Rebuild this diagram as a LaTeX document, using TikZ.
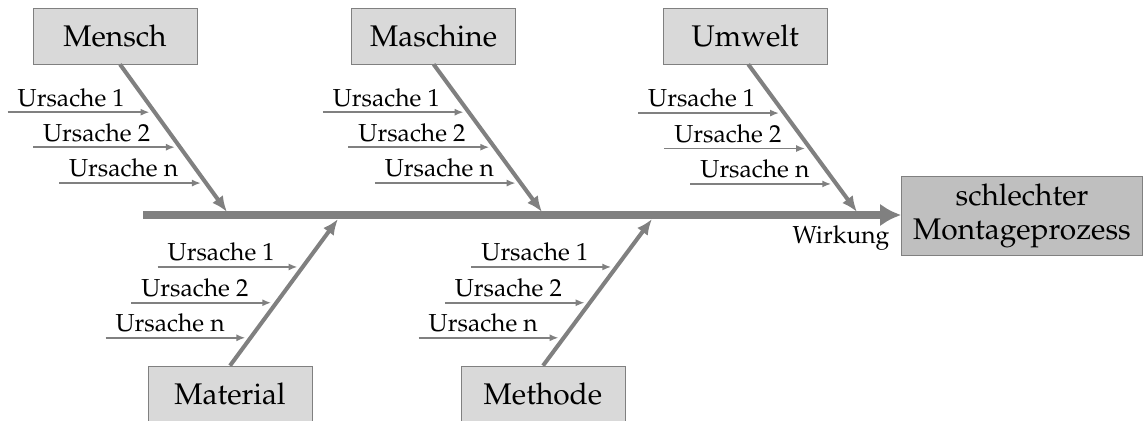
\documentclass[tikz,border=0pt]{standalone}
\usepackage[T1]{fontenc}
\usepackage{mathpazo}
\usepackage{tikz}
\definecolor{bonegray}{gray}{0.5}
\tikzstyle{category}=[rectangle,draw=bonegray,fill=black!15,minimum width=3.28cm,
minimum height=1.12cm,font=\fontsize{17}{20}\selectfont]
\tikzstyle{effect}=[rectangle,draw=bonegray,fill=black!25,minimum width=4.82cm,
minimum height=1.58cm,align=center,font=\fontsize{17}{19}\selectfont]
\tikzstyle{cause}=[anchor=south west,inner xsep=5.5pt,inner ysep=3pt,font=\fontsize{14}{17}\selectfont]
\tikzstyle{bone}=[draw=bonegray,line width=2.3pt,-{Latex[length=9pt,width=7.5pt]}]
\tikzstyle{spine}=[draw=bonegray,line width=4pt,-{Latex[length=12pt,width=13pt]}]
\tikzstyle{causeline}=[draw=bonegray,line width=0.9pt,shorten >=3pt,-{Latex[length=5pt,width=4pt]}]
\usetikzlibrary{arrows.meta,positioning,calc}

\begin{document}
\begin{tikzpicture}[x=0.02cm,y=-0.02cm]
            \useasboundingbox (0,0) rectangle (1145,420);

            % EFFECT PART

            \node[effect] (effect) at (1022,216) {schlechter\\Montageprozess};
            \coordinate (tail) at (143,215);
            \node[font=\fontsize{14}{16}\selectfont,anchor=base] (wirkung) at (841,243) {Wirkung};

            \path[spine] (tail) -- (tail -| effect.west);

            % Mensch PART

            \node[category] (mensch) at (115,36) {Mensch};
            \coordinate (menschtip) at (227,212);
            \coordinate (menschtop) at ([xshift=0.1cm]mensch.south);
            \coordinate (mensch1) at ($(menschtop)!0.324!(menschtip)$);
            \coordinate (mensch2) at ($(menschtop)!0.561!(menschtip)$);
            \coordinate (menschn) at ($(menschtop)!0.804!(menschtip)$);
            \node[cause] (mensch1t) at ($(mensch1)+(-147,0)$) {Ursache 1};
            \node[cause] (mensch2t) at ($(mensch2)+(-147,0)$) {Ursache 2};
            \node[cause] (menschnt) at ($(menschn)+(-147,0)$) {Ursache n};

            \path[bone] (menschtop) -- (menschtip);
            \path[causeline] (mensch1t.south west) -- (mensch1);
            \path[causeline] (mensch2t.south west) -- (mensch2);
            \path[causeline] (menschnt.south west) -- (menschn);

            % Maschine PART

            \node[category,right=3.08cm of mensch] (maschine) {Maschine};
            \coordinate (maschinetip) at (542,212);
            \coordinate (maschine1) at ($(maschine.south)!0.324!(maschinetip)$);
            \coordinate (maschine2) at ($(maschine.south)!0.561!(maschinetip)$);
            \coordinate (maschinen) at ($(maschine.south)!0.804!(maschinetip)$);
            \node[cause] (maschine1t) at ($(maschine1)+(-146,0)$) {Ursache 1};
            \node[cause] (maschine2t) at ($(maschine2)+(-146,0)$) {Ursache 2};
            \node[cause] (maschinent) at ($(maschinen)+(-146,0)$) {Ursache n};

            \path[bone] (maschine.south) -- (maschinetip);
            \path[causeline] (maschine1t.south west) -- (maschine1);
            \path[causeline] (maschine2t.south west) -- (maschine2);
            \path[causeline] (maschinent.south west) -- (maschinen);

            % Umwelt PART

            \node[category,right=2.94cm of maschine] (umwelt) {Umwelt};
            \coordinate (umwelttip) at (857,212);
            \coordinate (umwelttop) at ([xshift=0.06cm]umwelt.south);
            \coordinate (umwelt1) at ($(umwelttop)!0.33!(umwelttip)$);
            \coordinate (umwelt2) at ($(umwelttop)!0.57!(umwelttip)$);
            \coordinate (umweltn) at ($(umwelttop)!0.81!(umwelttip)$);
            \node[cause] (umwelt1t) at ($(umwelt1)+(-146,0)$) {Ursache 1};
            \node[cause] (umwelt2t) at ($(umwelt2)+(-146,0)$) {Ursache 2};
            \node[cause] (umweltnt) at ($(umweltn)+(-146,0)$) {Ursache n};

            \path[bone] (umwelttop) -- (umwelttip);
            \path[causeline] (umwelt1t.south west) -- (umwelt1);
            \path[causeline] (umwelt2t.south west) -- (umwelt2);
            \path[causeline] (umweltnt.south west) -- (umweltn);

            % Material PART

            \node[category] (material) at (230,394) {Material};
            \coordinate (materialtip) at (338,219);
            \coordinate (material1) at ($(material.north)!0.673!(materialtip)$);
            \coordinate (material2) at ($(material.north)!0.429!(materialtip)$);
            \coordinate (materialn) at ($(material.north)!0.19!(materialtip)$);
            \node[cause] (material1t) at ($(material1)+(-145,0)$) {Ursache 1};
            \node[cause] (material2t) at ($(material2)+(-145,0)$) {Ursache 2};
            \node[cause] (materialnt) at ($(materialn)+(-145,0)$) {Ursache n};

            \path[bone] (material.north) -- (materialtip);
            \path[causeline] (material1t.south west) -- (material1);
            \path[causeline] (material2t.south west) -- (material2);
            \path[causeline] (materialnt.south west) -- (materialn);

            % Methode PART

            \node[category] (methode) at (543,394) {Methode};
            \coordinate (methodetip) at (652,219);
            \coordinate (methode1) at ($(methode.north)!0.673!(methodetip)$);
            \coordinate (methode2) at ($(methode.north)!0.429!(methodetip)$);
            \coordinate (methoden) at ($(methode.north)!0.19!(methodetip)$);
            \node[cause] (methode1t) at ($(methode1)+(-145,0)$) {Ursache 1};
            \node[cause] (methode2t) at ($(methode2)+(-145,0)$) {Ursache 2};
            \node[cause] (methodent) at ($(methoden)+(-145,0)$) {Ursache n};

            \path[bone] (methode.north) -- (methodetip);
            \path[causeline] (methode1t.south west) -- (methode1);
            \path[causeline] (methode2t.south west) -- (methode2);
            \path[causeline] (methodent.south west) -- (methoden);

\end{tikzpicture}
\end{document}
